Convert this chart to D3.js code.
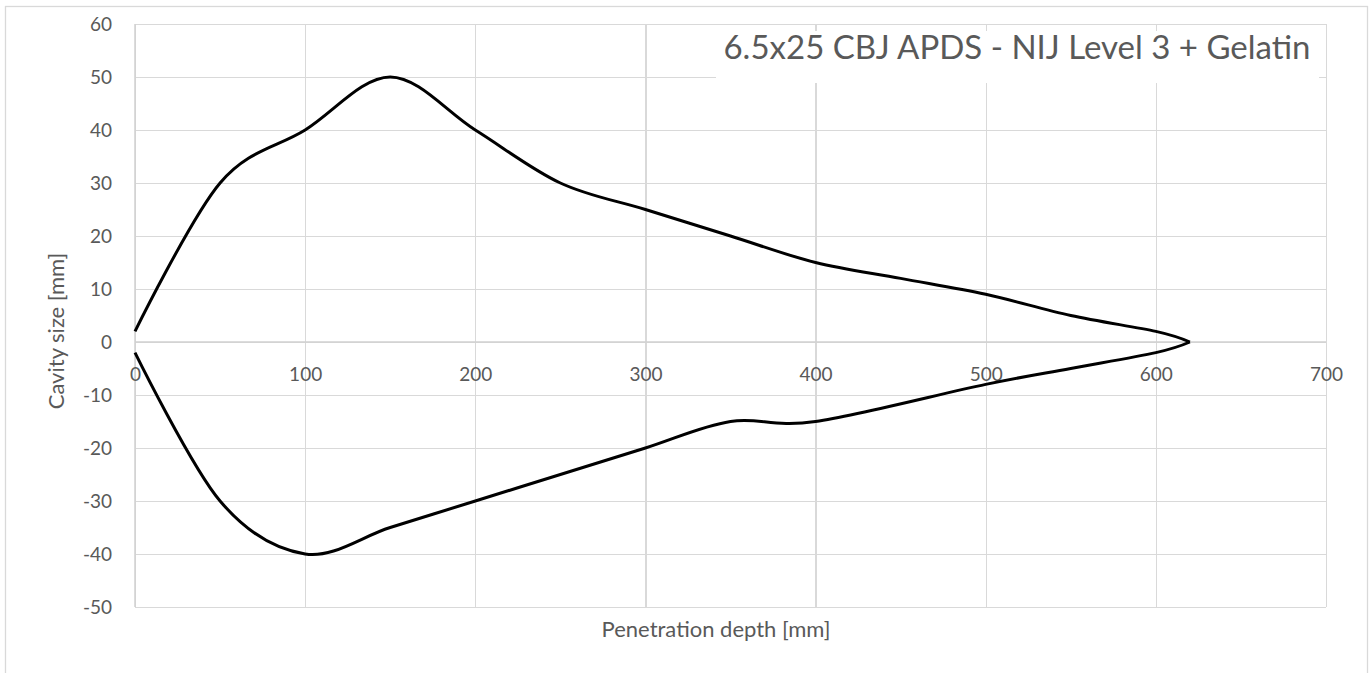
<!DOCTYPE html>
<html>
<head>
<meta charset="utf-8">
<script src="https://cdn.jsdelivr.net/npm/d3@7"></script>
<style>
body{margin:0;background:#ffffff}
text{font-family:Lato,"Open Sans",sans-serif;fill:#595959}
</style>
</head>
<body>
<svg id="chart" width="1372" height="673"></svg>
<script>
// ---- data (mm) ----
var upperDepth=[0,50,100,150,200,250,300,350,400,450,500,550,600,620]
var upperSize =[2,30,40,50,40,30,25,20,15,12,9,5,2,0]

var lowerDepth=[0,50,100,150,200,250,300,350,400,500,550,600,620]
var lowerSize =[-2,-30,-40,-35,-30,-25,-20,-15,-15,-8,-5,-2,0]

var xTicks=[0,100,200,300,400,500,600,700]
var yTicks=[-50,-40,-30,-20,-10,0,10,20,30,40,50,60]

var chartTitle="6.5x25 CBJ APDS - NIJ Level 3 + Gelatin"
var xTitle="Penetration depth [mm]"
var yTitle="Cavity size [mm]"

//---layout---
var plotLeft=135, plotTop=24, plotRight=1326, plotBottom=607
var gridColor="#d9d9d9"

var svg=d3.select("#chart")

// chart area border
svg.append("rect")
 .attr("x",5.5)
 .attr("y",6.5)
 .attr("width",1362)
 .attr("height",700)
 .attr("fill","#ffffff")
 .attr("stroke",gridColor)
 .attr("stroke-width",1.3)

var xScale=d3.scaleLinear()
    .domain([0,700])
    .range([plotLeft,plotRight])

var yScale=d3.scaleLinear()
    .domain([-50,60])
    .range([plotBottom,plotTop])

// gridlines
svg.append("g")
 .attr("class","grid")
 .attr("transform","translate(0,"+plotBottom+")")
 .call(d3.axisBottom(xScale)
    .tickValues(xTicks)
    .tickSize(-(plotBottom-plotTop))
    .tickFormat(""))

svg.append("g")
 .attr("class","grid")
 .attr("transform","translate("+plotLeft+",0)")
 .call(d3.axisLeft(yScale)
    .tickValues(yTicks)
    .tickSize(-(plotRight-plotLeft))
    .tickFormat(""))

svg.selectAll(".grid .domain").remove()
svg.selectAll(".grid line")
 .attr("stroke",gridColor)
 .attr("stroke-width",1.3)
 .attr("shape-rendering","crispEdges")

// axis lines (x at zero, y at left)
svg.append("line")
 .attr("x1",plotLeft).attr("x2",plotRight)
 .attr("y1",yScale(0)).attr("y2",yScale(0))
 .attr("stroke","#d0d0d0").attr("stroke-width",1.5)
svg.append("line")
 .attr("x1",xScale(0)).attr("x2",xScale(0))
 .attr("y1",plotTop).attr("y2",plotBottom)
 .attr("stroke","#d0d0d0").attr("stroke-width",1.5)

// tick labels, plain hyphen for negatives like the original
var plainNum=function(d){ return String(d) }

var yAxis=svg.append("g")
 .attr("transform","translate(112,0)")
 .call(d3.axisLeft(yScale).tickValues(yTicks).tickSize(0).tickPadding(0).tickFormat(plainNum))
yAxis.select(".domain").remove()
yAxis.selectAll("text")
 .attr("font-size","19px")
 .attr("font-family","Lato")
 .attr("fill","#595959")
 .attr("dy","0.36em")

var xAxis=svg.append("g")
 .attr("transform","translate(0,"+yScale(0)+")")
 .call(d3.axisBottom(xScale).tickValues(xTicks).tickSize(0).tickPadding(0).tickFormat(plainNum))
xAxis.select(".domain").remove()
xAxis.selectAll("text")
 .attr("font-size","19px")
 .attr("font-family","Lato")
 .attr("fill","#595959")
 .attr("dy",null)
 .attr("y",39)

//--series---
var smooth=d3.line()
    .x(function(d){ return xScale(d[0]) })
    .y(function(d){ return yScale(d[1]) })
    .curve(d3.curveCardinal.tension(0))

var upper=d3.zip(upperDepth,upperSize)
var lower=d3.zip(lowerDepth,lowerSize)

svg.append("path")
 .datum(upper)
 .attr("fill","none")
 .attr("stroke","#000000")
 .attr("stroke-width",3)
 .attr("stroke-linejoin","round")
 .attr("d",smooth)

svg.append("path")
 .datum(lower)
 .attr("fill","none")
 .attr("stroke","#000000")
 .attr("stroke-width",3)
 .attr("stroke-linejoin","round")
 .attr("d",smooth)

// title box sits on top of the grid
svg.append("rect")
 .attr("x",716)
 .attr("y",31)
 .attr("width",603)
 .attr("height",52)
 .attr("fill","#ffffff")

svg.append("text")
 .attr("x",1017)
 .attr("y",59)
 .attr("text-anchor","middle")
 .attr("font-size","33px")
 .text(chartTitle)

// axis titles
svg.append("text")
 .attr("x",716)
 .attr("y",637)
 .attr("text-anchor","middle")
 .attr("font-size","22px")
 .text(xTitle)

svg.append("text")
 .attr("transform","translate(64,331)rotate(-90)")
 .attr("text-anchor","middle")
 .attr("font-size","22px")
 .text(yTitle)
</script>
</body>
</html>
